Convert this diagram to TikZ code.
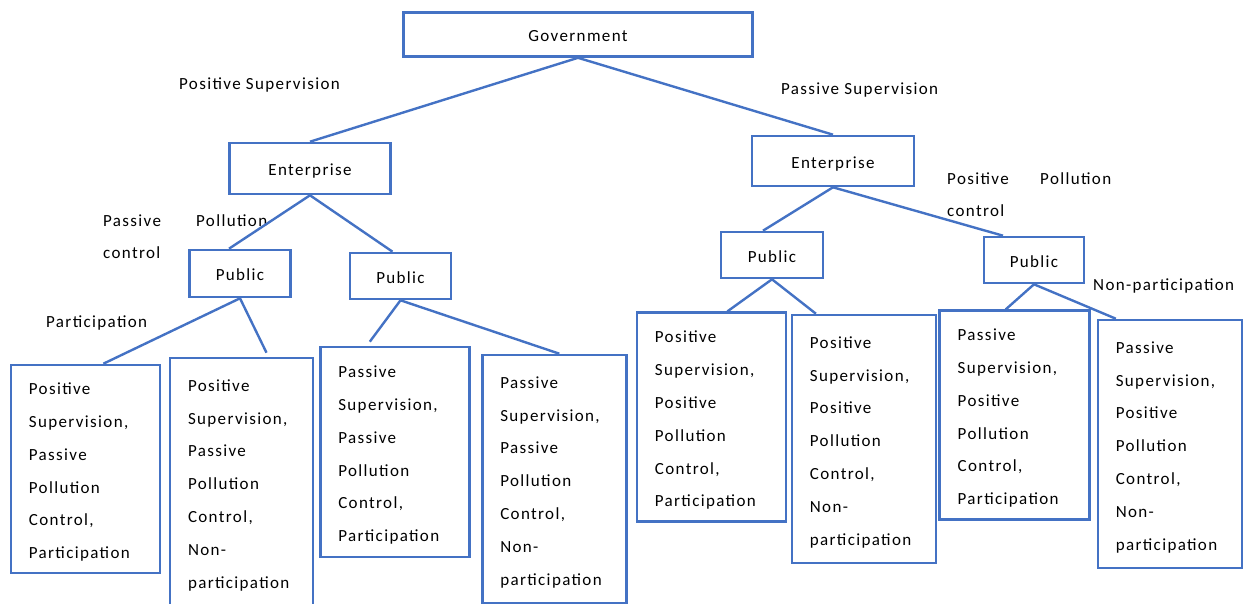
\documentclass[tikz,border=0pt]{standalone}
\usepackage{fontspec}
\setmainfont{Carlito}[LetterSpace=8]
\definecolor{boxblue}{RGB}{68,114,196}

\begin{document}
\begin{tikzpicture}[x=1pt, y=-1pt,
        box/.style={draw=boxblue, line width=2.6pt, inner sep=0pt, text height=15pt, text depth=0pt, font=\fontsize{17}{20}\selectfont},
        leaf/.style={draw=boxblue, line width=2.6pt, inner xsep=18pt, inner ysep=0pt, align=left,
            font=\fontsize{17}{32.8}\selectfont, execute at begin node={\rule{0pt}{18pt}}},
        lab/.style={inner sep=0pt, anchor=west, text height=15pt, text depth=0pt, font=\fontsize{17}{20}\selectfont},
        conn/.style={draw=boxblue, line width=2.4pt}] %game tree
            \clip (0,0) rectangle (1243,604);

            \node[box, minimum width=349pt, minimum height=44pt] (gov) at (578,34.5) {Government};
            \node[box, minimum width=161pt, minimum height=51pt] (entL) at (310,168.5) {Enterprise};
            \node[box, minimum width=162pt, minimum height=50pt] (entR) at (833,161) {Enterprise};
            \node[box, minimum width=101pt, minimum height=47pt] (pubA) at (240,273.5) {Public};
            \node[box, minimum width=101pt, minimum height=46pt] (pubB) at (400.5,276) {Public};
            \node[box, minimum width=102pt, minimum height=46pt] (pubC) at (772,255) {Public};
            \node[box, minimum width=100pt, minimum height=46pt] (pubD) at (1034,260) {Public};

            \node[leaf, text width=113pt, minimum height=208pt] (endA) at (85.4,469) {Positive\\Supervision,\\Passive\\Pollution\\Control,\\Participation};
            \node[leaf, text width=107pt, minimum height=248pt] (endB) at (241.5,482) {Positive\\Supervision,\\Passive\\Pollution\\Control,\\Non-\\participation};
            \node[leaf, text width=113pt, minimum height=210pt] (endC) at (394.8,452) {Passive\\Supervision,\\Passive\\Pollution\\Control,\\Participation};
            \node[leaf, text width=108pt, minimum height=248pt] (endD) at (554.3,479) {Passive\\Supervision,\\Passive\\Pollution\\Control,\\Non-\\participation};
            \node[leaf, text width=113pt, minimum height=209pt] (endE) at (711.4,417.2) {Positive\\Supervision,\\Positive\\Pollution\\Control,\\Participation};
            \node[leaf, text width=108pt, minimum height=248pt] (endF) at (863.9,439) {Positive\\Supervision,\\Positive\\Pollution\\Control,\\Non-\\participation};
            \node[leaf, text width=114pt, minimum height=208.6pt] (endG) at (1014.7,415) {Passive\\Supervision,\\Positive\\Pollution\\Control,\\Participation};
            \node[leaf, text width=108pt, minimum height=248pt] (endH) at (1169.8,444) {Passive\\Supervision,\\Positive\\Pollution\\Control,\\Non-\\participation};

            \node[lab] (posSup) at (179,82) {Positive Supervision};
            \node[lab] (pasSup) at (781,87) {Passive Supervision};
            \node[lab] (pasA) at (103,219) {Passive};
            \node[lab] (polA) at (196,219) {Pollution};
            \node[lab] (ctlA) at (103,251) {control};
            \node[lab] (posB) at (947,177) {Positive};
            \node[lab] (polB) at (1040,177) {Pollution};
            \node[lab] (ctlB) at (947,209) {control};
            \node[lab] (partA) at (46,320) {Participation};
            \node[lab] (nonB) at (1093,283) {Non-participation};

            \draw[conn] (gov.south) -- (entL.north);
            \draw[conn] (gov.south) -- (entR.north);
            \draw[conn] (entL.south) -- ([xshift=-11pt]pubA.north);
            \draw[conn] (entL.south) -- ([xshift=-8pt]pubB.north);
            \draw[conn] (entR.south) -- ([xshift=-9pt]pubC.north);
            \draw[conn] (entR.south) -- ([xshift=-31pt]pubD.north);
            \draw[conn] (pubA.south) -- ([xshift=18pt]endA.north);
            \draw[conn] (pubA.south) -- ([xshift=25pt,yshift=4pt]endB.north);
            \draw[conn] (pubB.south) -- ([xshift=-25pt,yshift=4pt]endC.north);
            \draw[conn] (pubB.south) -- ([xshift=5pt]endD.north);
            \draw[conn] (pubC.south) -- ([xshift=16pt]endE.north);
            \draw[conn] (pubC.south) -- ([xshift=-48pt]endF.north);
            \draw[conn] (pubD.south) -- ([xshift=-9pt]endG.north);
            \draw[conn] (pubD.south) -- ([xshift=-54pt]endH.north);
        \end{tikzpicture}
\end{document}
